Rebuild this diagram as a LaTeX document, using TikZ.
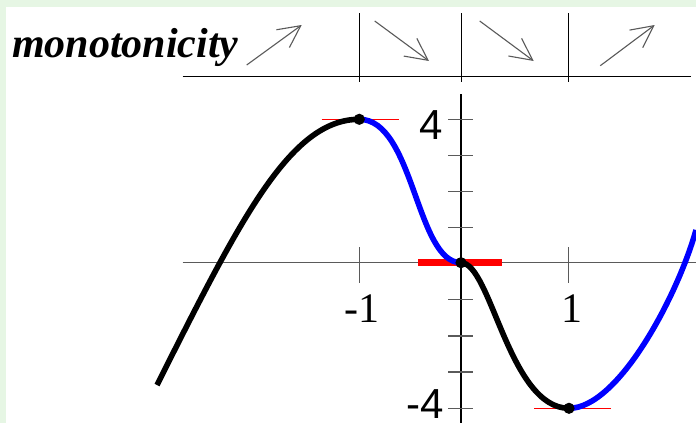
\documentclass[tikz,border=0pt]{standalone}
\usepackage{fontspec}
\setmainfont{Liberation Serif}
\newfontfamily\labelsans{Liberation Sans}
\usetikzlibrary{arrows.meta}
\definecolor{framegreen}{HTML}{E6F6E4}
\definecolor{axisgray}{HTML}{5A5A5A}

\begin{document}
\begin{tikzpicture}[
            x=0.5pt, y=-0.5pt,
            axis/.style={axisgray, line width=0.6pt},
            rule/.style={black, line width=0.6pt},
            trend/.style={-{Straight Barb[length=11pt,width=11pt]}, axisgray, line width=0.55pt},
            darkpart/.style={black, line width=2.8pt},
            bluepart/.style={blue, line width=2.8pt},
            tangent/.style={red, line width=0.6pt},
            flatpart/.style={red, line width=3.3pt},
            critdot/.style={circle, fill=black, inner sep=0pt, minimum size=5.6pt},
            xlab/.style={font=\fontsize{21}{21}\selectfont, inner sep=0pt, anchor=base},
            ylab/.style={font=\labelsans\fontsize{21}{21}\selectfont, inner sep=0pt, anchor=base east}
        ]
        
        % Frame of the panel
        \fill[framegreen] (0,0) rectangle (696,423);
        \fill[white] (6,7) rectangle (696,423);
        \useasboundingbox (0,0) rectangle (696,423);
        
        % Monotonicity table
        \node[anchor=base west, inner sep=0pt,
              font=\fontsize{21}{22}\selectfont\bfseries\itshape] (title) at (11.7,57.5) {monotonicity};
        \draw[rule] (182.7,76.7) -- (691.3,76.7);
        \draw[rule] (359.7,13.3) -- (359.7,81.7);
        \draw[rule] (461.3,13.3) -- (461.3,81.7);
        \draw[rule] (568.7,13.3) -- (568.7,81.7);
        
        \coordinate (incAs) at (246.7,65);
        \coordinate (incAe) at (301.7,25);
        \coordinate (decAs) at (374.7,21);
        \coordinate (decAe) at (429,61);
        \coordinate (decBs) at (479.7,21);
        \coordinate (decBe) at (533.7,61);
        \coordinate (incBs) at (600.3,65.7);
        \coordinate (incBe) at (654.7,25);
        \draw[trend] (incAs) -- (incAe);
        \draw[trend] (decAs) -- (decAe);
        \draw[trend] (decBs) -- (decBe);
        \draw[trend] (incBs) -- (incBe);
        
        % Axes and ticks
        \draw[axis] (182.7,262.7) -- (696,262.7);
        \draw[rule] (461,94) -- (461,423);
        \draw[axis] (359.3,247) -- (359.3,283);
        \draw[axis] (568.5,247) -- (568.5,283);
        \draw[axis] (448,119.3) -- (473,119.3);
        \draw[axis] (448,155.4) -- (473,155.4);
        \draw[axis] (448,191.5) -- (473,191.5);
        \draw[axis] (448,227.6) -- (473,227.6);
        \draw[axis] (448,299.8) -- (473,299.8);
        \draw[axis] (448,335.9) -- (473,335.9);
        \draw[axis] (448,372) -- (473,372);
        \draw[axis] (448,408.3) -- (473,408.3);
        
        \node[xlab] (xmone) at (362,322.7) {-1};
        \node[xlab] (xone) at (571.5,322.7) {1};
        \node[ylab] (yfour) at (443,139) {4};
        \node[ylab] (ymfour) at (444,418.5) {-4};
        
        % Critical points
        \coordinate (leftend) at (157,385);
        \coordinate (maxpt) at (359.3,119.3);
        \coordinate (origin) at (461,262.7);
        \coordinate (minpt) at (569,408.3);
        \coordinate (rightend) at (696,230);
        
        % Horizontal tangents
        \draw[tangent] (321.7,119.3) -- (399,119.3);
        \draw[tangent] (534,408.3) -- (611,408.3);
        \draw[flatpart] (418.3,262.7) -- (501.7,262.7);
        
        % Graph
        \draw[darkpart] (leftend) .. controls (240,220) and (290,119.3) .. (maxpt);
        \draw[bluepart] (maxpt) .. controls (414,119.3) and (416,262.7) .. (origin);
        \draw[darkpart] (origin) .. controls (491,262.7) and (509,408.3) .. (minpt);
        \draw[bluepart] (minpt) .. controls (618,408.3) and (677.4,296.6) .. (rightend);
        
        \node[critdot] (maxdot) at (maxpt) {};
        \node[critdot] (origdot) at (origin) {};
        \node[critdot] (mindot) at (minpt) {};
        
        \end{tikzpicture}
\end{document}
